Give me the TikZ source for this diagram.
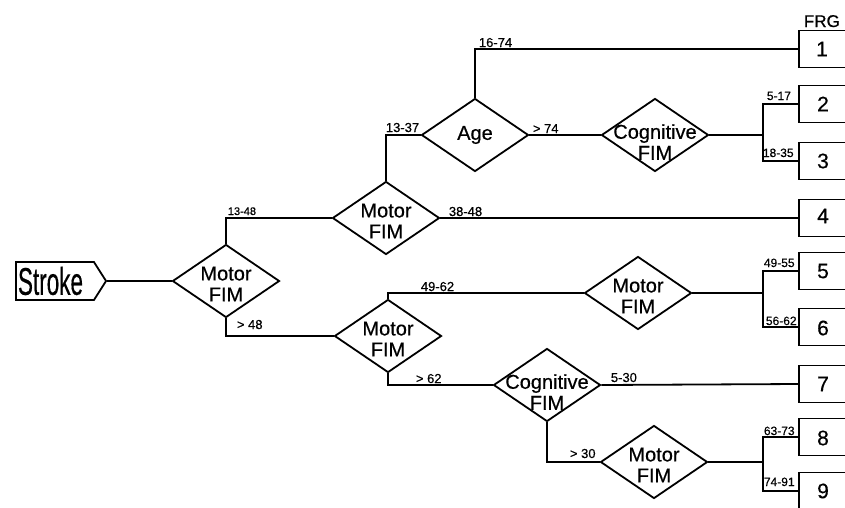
\documentclass[tikz,border=0pt]{standalone}
\usepackage{fontspec}
\setmainfont{Liberation Sans}[FakeBold=0.5]
\usetikzlibrary{shapes.geometric,shapes.symbols}
\begin{document}
\begin{tikzpicture}[x=1pt,y=-1pt,line width=1.8pt,
  dia/.style={diamond, draw, minimum width=107pt, minimum height=73pt, inner sep=0pt},
  dtext/.style={align=center, inner sep=0pt, font=\fontsize{20}{21}\selectfont},
  box/.style={draw, minimum width=90pt, minimum height=37pt, inner sep=0pt, anchor=west},
  num/.style={inner sep=0pt, font=\fontsize{21}{21}\selectfont},
  lab/.style={inner sep=0pt, anchor=base west, font=\fontsize{13}{13}\selectfont},
  lnk/.style={}]
\useasboundingbox (0,0) rectangle (845,507);
\clip (0,0) rectangle (845,507);
% Stroke
\node[signal, signal to=east, draw, minimum width=90pt, minimum height=38pt,
      signal pointer angle=115, inner sep=0pt] (stroke) at (55,281) {};
\node[inner sep=0pt] (strokeT) at (50.5,281) {\resizebox{65pt}{28pt}{Stroke}};
% diamonds
\node[dia] (d1) at (226,281) {};
\node[dtext, yshift=-3pt] (t1) at (d1) {Motor\\FIM};
\node[dia] (d2) at (386,218) {};
\node[dtext, yshift=-3pt] (t2) at (d2) {Motor\\FIM};
\node[dia] (age) at (475,135) {};
\node[dtext] (t3) at (age) {Age};
\node[dia] (c1) at (655,135) {};
\node[dtext, yshift=-7pt] (t4) at (c1) {Cognitive\\FIM};
\node[dia] (d3) at (388,336) {};
\node[dtext, yshift=-3pt] (t5) at (d3) {Motor\\FIM};
\node[dia] (d4) at (638,293) {};
\node[dtext, yshift=-3pt] (t6) at (d4) {Motor\\FIM};
\node[dia] (c2) at (547,385) {};
\node[dtext, yshift=-7pt] (t7) at (c2) {Cognitive\\FIM};
\node[dia] (d5) at (654,462) {};
\node[dtext, yshift=-3pt] (t8) at (d5) {Motor\\FIM};
% boxes
\node[box] (b1) at (798,49) {};
\node[box] (b2) at (798,104) {};
\node[box] (b3) at (798,161) {};
\node[box] (b4) at (798,218) {};
\node[box] (b5) at (798,271) {};
\node[box] (b6) at (798,327) {};
\node[box] (b7) at (798,384) {};
\node[box] (b8) at (798,437) {};
\node[box] (b9) at (798,491) {};
\node[num] (n1) at (822,49) {1};
\node[num] (n2) at (823,104) {2};
\node[num] (n3) at (823,161) {3};
\node[num] (n4) at (823,216) {4};
\node[num] (n5) at (823,271) {5};
\node[num] (n6) at (823,328) {6};
\node[num] (n7) at (823,384) {7};
\node[num] (n8) at (823,438) {8};
\node[num] (n9) at (823,491) {9};
\node[inner sep=0pt, anchor=base west, font=\fontsize{17}{17}\selectfont] (frg) at (803,27) {FRG};
% branch points
\coordinate (br1) at (763,135);
\coordinate (br2) at (763,293);
\coordinate (br3) at (763,462);
% connectors
\draw[lnk] (stroke.east) -- (d1.west);
\draw[lnk] (d1.north) |- (d2.west);
\draw[lnk] (d2.north) |- (age.west);
\draw[lnk] (age.north) |- (b1.west);
\draw[lnk] (age.east) -- (c1.west);
\draw[lnk] (c1.east) -- (br1);
\draw[lnk] (b2.west) -| (br1) |- (b3.west);
\draw[lnk] (d2.east) -- (b4.west);
\draw[lnk] (d1.south) |- (d3.west);
\draw[lnk] (d3.north) |- (d4.west);
\draw[lnk] (d4.east) -- (br2);
\draw[lnk] (b5.west) -| (br2) |- (b6.west);
\draw[lnk] (d3.south) |- (c2.west);
\draw[lnk] (c2.east) -- (b7.west);
\draw[lnk] (c2.south) |- (d5.west);
\draw[lnk] (d5.east) -- (br3);
\draw[lnk] (b8.west) -| (br3) |- (b9.west);
% labels
\node[lab, font=\fontsize{11}{11}\selectfont] (l1) at (227,215) {13-48};
\node[lab] (l2) at (448,216) {38-48};
\node[lab] (l3) at (385,132) {13-37};
\node[lab] (l4) at (478,47) {16-74};
\node[lab] (l5) at (532,133) {> 74};
\node[lab, font=\fontsize{12}{12}\selectfont] (l6) at (766,100) {5-17};
\node[lab, font=\fontsize{12}{12}\selectfont] (l7) at (762,157) {18-35};
\node[lab] (l8) at (236,329) {> 48};
\node[lab] (l9) at (420,291) {49-62};
\node[lab] (l10) at (415,383) {> 62};
\node[lab, font=\fontsize{12}{12}\selectfont] (l11) at (763,267) {49-55};
\node[lab, font=\fontsize{12}{12}\selectfont] (l12) at (765,325) {56-62};
\node[lab] (l13) at (610,382) {5-30};
\node[lab] (l14) at (569,458) {> 30};
\node[lab, font=\fontsize{12}{12}\selectfont] (l15) at (763,435) {63-73};
\node[lab, font=\fontsize{12}{12}\selectfont] (l16) at (763,486) {74-91};
\end{tikzpicture}
\end{document}
